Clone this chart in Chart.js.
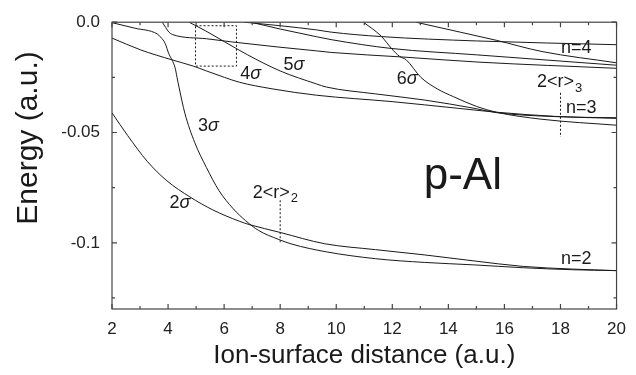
<!DOCTYPE html>
<html>
<head>
<meta charset="utf-8">
<script src="https://cdn.jsdelivr.net/npm/chart.js@4.4.0/dist/chart.umd.min.js"></script>
<style>
  html, body { margin: 0; padding: 0; background: #fff; }
  #wrap { width: 636px; height: 375px; }
</style>
</head>
<body>
<div id="wrap"><canvas id="chart" width="636" height="375"></canvas></div>
<script>
// [distance (a.u.), energy (a.u.)], one list per curve
const sigma2 = [[2.00,-0.0411],[2.56,-0.0514],[3.26,-0.0631],[3.96,-0.0719],[4.78,-0.0792],[5.60,-0.0851],
  [6.54,-0.0902],[6.89,-0.0917],[8.00,-0.0953],[9.58,-0.1004],[11.40,-0.1031],[13.16,-0.1055],
  [14.91,-0.1082],[16.67,-0.1107],[18.42,-0.1119],[20.00,-0.1126]];
const sigma3 = [[2.00,-0.0002],[2.81,-0.0027],[3.61,-0.0053],[3.73,-0.0067],[3.90,-0.0097],[4.02,-0.0141],
  [4.14,-0.0171],[4.25,-0.0206],[4.32,-0.0250],[4.39,-0.0294],[4.60,-0.0413],[4.95,-0.0545],[5.37,-0.0659],
  [5.82,-0.0764],[6.32,-0.0845],[6.77,-0.0900],[7.23,-0.0944],[7.93,-0.0984],[8.42,-0.1006],[9.65,-0.1041],
  [11.40,-0.1072],[13.16,-0.1089],[14.91,-0.1100],[16.67,-0.1113],[18.42,-0.1122],[20.00,-0.1126]];
const sigma4 = [[2.00,-0.0072],[3.03,-0.0126],[4.15,-0.0171],[4.90,-0.0199],[5.37,-0.0221],[6.01,-0.0250],
  [6.54,-0.0272],[7.71,-0.0302],[9.30,-0.0331],[11.99,-0.0360],[14.32,-0.0390],[15.72,-0.0408],
  [17.82,-0.0427],[20.00,-0.0436]];
const sigma5 = [[4.75,0.0000],[5.32,-0.0038],[6.02,-0.0089],[6.84,-0.0148],[8.00,-0.0221],[9.30,-0.0280],
  [9.65,-0.0294],[11.40,-0.0325],[13.16,-0.0353],[14.91,-0.0390],[15.72,-0.0410],[17.82,-0.0428],[20.00,-0.0433]];
const sigma6 = [[10.97,0.0000],[11.61,-0.0064],[11.97,-0.0119],[12.26,-0.0155],[12.49,-0.0170],[13.02,-0.0250],
  [13.60,-0.0302],[14.19,-0.0338],[15.01,-0.0382],[15.71,-0.0408],[17.34,-0.0440],[20.00,-0.0467]];
const upperA = [[3.79,0.0000],[3.92,-0.0025],[4.03,-0.0045],[4.16,-0.0056],[5.37,-0.0075],[6.25,-0.0089],
  [7.89,-0.0112],[9.30,-0.0130],[9.82,-0.0137],[12.39,-0.0158],[15.09,-0.0181],[20.00,-0.0209]];
const upperB = [[6.72,0.0000],[8.00,-0.0016],[9.30,-0.0035],[9.82,-0.0045],[11.58,-0.0065],[15.00,-0.0085],
  [20.00,-0.0102]];
const upperC = [[6.95,0.0000],[8.00,-0.0031],[9.30,-0.0066],[9.82,-0.0079],[11.96,-0.0119],[15.01,-0.0148],
  [20.00,-0.0195]];
const upperD = [[12.84,0.0000],[14.42,-0.0045],[15.71,-0.0082],[17.34,-0.0133],[20.00,-0.0184]];

// dotted marks: zoom box and the 2<r>_n markers
const zoomBox = [[4.98,-0.0016],[6.44,-0.0016],[6.44,-0.0199],[4.98,-0.0199],[4.98,-0.0016]];
const radius2 = [[8.00,-0.0807],[8.00,-0.0997]];
const radius3 = [[18.00,-0.0320],[18.00,-0.0520]];

const xTicks = [2, 4, 6, 8, 10, 12, 14, 16, 18, 20];
const xMinor = [3, 5, 7, 9, 11, 13, 15, 17, 19];
const yTicks = [0, -0.05, -0.1];
const yMinor = [-0.025, -0.075, -0.125];

// text placed on the plot (anchor in data units)
const curveLabels = [
  { num: '2', x: 4.42, y: -0.0821 },
  { num: '3', x: 5.44, y: -0.0470 },
  { num: '4', x: 6.95, y: -0.0237 },
  { num: '5', x: 8.49, y: -0.0193 },
  { num: '6', x: 12.53, y: -0.0259 }
];
const levelLabels = [
  { text: 'n=4', x: 18.56, y: -0.0119 },
  { text: 'n=3', x: 18.74, y: -0.0391 },
  { text: 'n=2', x: 18.56, y: -0.1072 }
];
const radiusLabels = [
  { sub: '2', x: 7.02, y: -0.0773 },
  { sub: '3', x: 17.16, y: -0.0272 }
];

const FONT = '"Liberation Sans", Arial, sans-serif';
const INK = '#1a1a1a';

function toPts(arr) {
  return arr.map(p => ({ x: p[0], y: p[1] }));
}

function curve(arr) {
  return {
    data: toPts(arr),
    borderColor: INK,
    borderWidth: 1,
    pointRadius: 0,
    showLine: true,
    fill: false,
    cubicInterpolationMode: 'monotone'
  };
}

function dotted(arr) {
  return {
    data: toPts(arr),
    borderColor: INK,
    borderWidth: 1,
    borderDash: [2, 2],
    pointRadius: 0,
    showLine: true,
    fill: false,
    tension: 0
  };
}

const frame = {
  id: 'frame',
  afterDatasetsDraw(chart) {
    const { ctx, chartArea: a, scales: { x, y } } = chart;
    ctx.save();

    // plot box with inward ticks on all four sides
    ctx.strokeStyle = '#444';
    ctx.lineWidth = 1.2;
    ctx.strokeRect(a.left, a.top, a.right - a.left, a.bottom - a.top);
    ctx.beginPath();
    const xt = xTicks.map(v => [v, 5]).concat(xMinor.map(v => [v, 3]));
    xt.forEach(([v, len]) => {
      const px = x.getPixelForValue(v);
      ctx.moveTo(px, a.bottom); ctx.lineTo(px, a.bottom - len);
      ctx.moveTo(px, a.top); ctx.lineTo(px, a.top + len);
    });
    const yt = yTicks.map(v => [v, 5]).concat(yMinor.map(v => [v, 3]));
    yt.forEach(([v, len]) => {
      const py = y.getPixelForValue(v);
      ctx.moveTo(a.left, py); ctx.lineTo(a.left + len, py);
      ctx.moveTo(a.right, py); ctx.lineTo(a.right - len, py);
    });
    ctx.stroke();

    ctx.fillStyle = INK;
    ctx.textBaseline = 'middle';

    // 2σ ... 6σ
    curveLabels.forEach(l => {
      const cx = x.getPixelForValue(l.x), cy = y.getPixelForValue(l.y);
      ctx.font = '18px ' + FONT;
      const w1 = ctx.measureText(l.num).width;
      ctx.font = 'italic 18px ' + FONT;
      const w2 = ctx.measureText('σ').width;
      const x0 = cx - (w1 + w2) / 2;
      ctx.textAlign = 'left';
      ctx.font = '18px ' + FONT;
      ctx.fillText(l.num, x0, cy);
      ctx.font = 'italic 18px ' + FONT;
      ctx.fillText('σ', x0 + w1, cy);
    });

    // n=2, n=3, n=4
    ctx.font = '18px ' + FONT;
    ctx.textAlign = 'center';
    levelLabels.forEach(l => {
      ctx.fillText(l.text, x.getPixelForValue(l.x), y.getPixelForValue(l.y));
    });

    // 2<r>_n
    radiusLabels.forEach(l => {
      const x0 = x.getPixelForValue(l.x), cy = y.getPixelForValue(l.y);
      ctx.textAlign = 'left';
      ctx.font = '18px ' + FONT;
      ctx.fillText('2<r>', x0, cy);
      const w = ctx.measureText('2<r>').width;
      ctx.font = '13px ' + FONT;
      ctx.fillText(l.sub, x0 + w + 1, cy + 6);
    });

    // panel name
    ctx.font = '44px ' + FONT;
    ctx.textAlign = 'left';
    ctx.textBaseline = 'alphabetic';
    ctx.fillText('p-Al', x.getPixelForValue(13.12), y.getPixelForValue(-0.0755));

    // axis titles
    ctx.font = '26px ' + FONT;
    ctx.textAlign = 'center';
    ctx.fillText('Ion-surface distance (a.u.)', (a.left + a.right) / 2, 363);
    ctx.translate(37, 138);
    ctx.rotate(-Math.PI / 2);
    ctx.font = '30px ' + FONT;
    ctx.fillText('Energy (a.u.)', 0, 0);

    ctx.restore();
  }
};

new Chart(document.getElementById('chart'), {
  type: 'scatter',
  data: {
    datasets: [
      curve(sigma2), curve(sigma3), curve(sigma4), curve(sigma5), curve(sigma6),
      curve(upperA), curve(upperB), curve(upperC), curve(upperD),
      dotted(zoomBox), dotted(radius2), dotted(radius3)
    ]
  },
  options: {
    responsive: false,
    animation: false,
    layout: { padding: { top: 13, right: 11, left: 0, bottom: 0 } },
    plugins: { legend: { display: false }, tooltip: { enabled: false } },
    scales: {
      x: {
        type: 'linear',
        min: 2,
        max: 20,
        afterBuildTicks: s => { s.ticks = xTicks.map(v => ({ value: v })); },
        afterFit: s => { s.height = 66; },
        grid: { display: false, drawTicks: false },
        border: { display: false },
        ticks: { font: { family: FONT, size: 17 }, color: '#222', padding: 10, maxRotation: 0 }
      },
      y: {
        type: 'linear',
        min: -0.13,
        max: 0,
        afterBuildTicks: s => { s.ticks = yTicks.map(v => ({ value: v })); },
        afterFit: s => { s.width = 112; },
        grid: { display: false, drawTicks: false },
        border: { display: false },
        ticks: {
          font: { family: FONT, size: 17 },
          color: '#222',
          padding: 12,
          callback: v => (v === 0 ? '0.0' : String(v))
        }
      }
    }
  },
  plugins: [frame]
});
</script>
</body>
</html>
